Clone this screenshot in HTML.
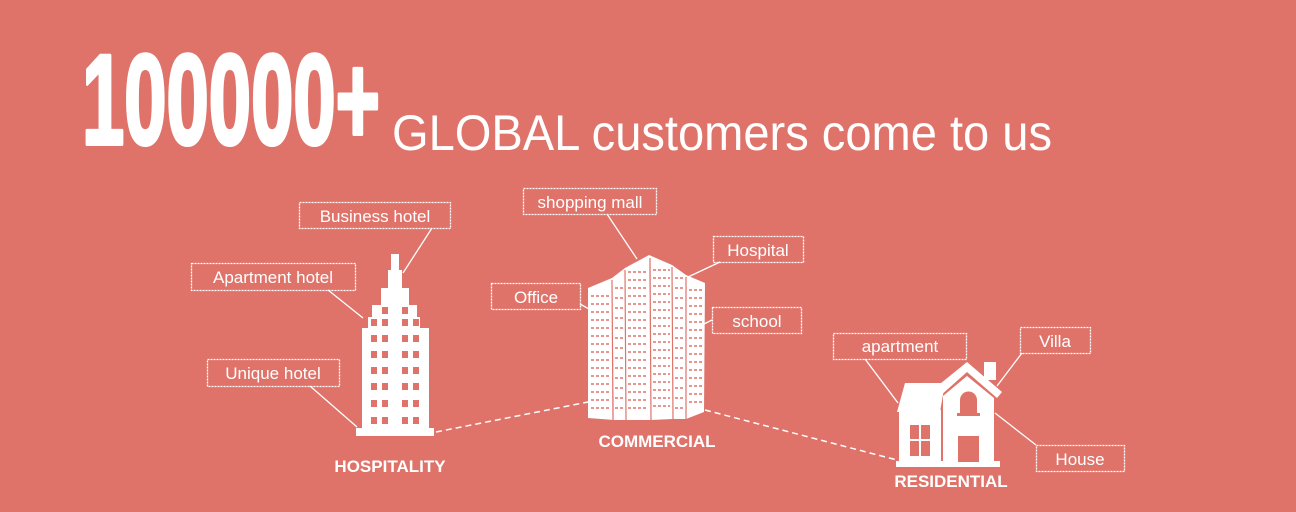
<!DOCTYPE html>
<html><head><meta charset="utf-8"><style>
html,body{margin:0;padding:0;background:#DF736A;}
svg{display:block}
text{font-family:"Liberation Sans",sans-serif;fill:#fff}
</style></head><body>
<svg width="1296" height="512" viewBox="0 0 1296 512" xmlns="http://www.w3.org/2000/svg">
<rect width="1296" height="512" fill="#DF736A"/>
<text x="82" y="144" font-size="128" font-weight="bold" textLength="298" lengthAdjust="spacingAndGlyphs" stroke="#fff" stroke-width="4" stroke-linejoin="round" style="font-family:'Liberation Sans Narrow','Liberation Sans',sans-serif">100000+</text>
<text x="392" y="150" font-size="50" textLength="660" lengthAdjust="spacingAndGlyphs">GLOBAL customers come to us</text>

<g fill="none" stroke="#fff" stroke-width="1.3" stroke-dasharray="2 1">
<rect x="299.5" y="202.5" width="151" height="26"/>
<rect x="191.5" y="263.5" width="164" height="27"/>
<rect x="207.5" y="359.5" width="132" height="27"/>
<rect x="523.5" y="188.5" width="133" height="26"/>
<rect x="713.5" y="236.5" width="90" height="26"/>
<rect x="491.5" y="283.5" width="89" height="26"/>
<rect x="712.5" y="307.5" width="89" height="26"/>
<rect x="833.5" y="333.5" width="133" height="26"/>
<rect x="1020.5" y="327.5" width="70" height="26"/>
<rect x="1036.5" y="445.5" width="88" height="26"/>
</g>
<g font-size="17" text-anchor="middle">
<text x="375" y="222">Business hotel</text>
<text x="273" y="283">Apartment hotel</text>
<text x="273" y="379">Unique hotel</text>
<text x="590" y="208">shopping mall</text>
<text x="758" y="256">Hospital</text>
<text x="536" y="303">Office</text>
<text x="757" y="327">school</text>
<text x="900" y="352">apartment</text>
<text x="1055" y="347">Villa</text>
<text x="1080" y="465">House</text>
</g>
<g stroke="#fff" stroke-width="1.3">
<line x1="432" y1="228" x2="403" y2="273"/>
<line x1="328" y1="290" x2="363" y2="318"/>
<line x1="310" y1="386" x2="357" y2="427"/>
<line x1="607" y1="214" x2="637" y2="259"/>
<line x1="720" y1="262" x2="688" y2="277"/>
<line x1="580" y1="304" x2="589" y2="309"/>
<line x1="712" y1="320" x2="704" y2="324"/>
<line x1="865" y1="359" x2="898" y2="403"/>
<line x1="1022" y1="353" x2="997" y2="386"/>
<line x1="1036" y1="445" x2="995" y2="413"/>
</g>
<g stroke="#fff" stroke-width="1.5" stroke-dasharray="6 4">
<line x1="436" y1="432" x2="588" y2="402"/>
<line x1="705" y1="410" x2="897" y2="460"/>
</g>

<g fill="#fff">
<rect x="391" y="254" width="8" height="18"/>
<rect x="388" y="270" width="14" height="20"/>
<rect x="381" y="288" width="28" height="18"/>
<rect x="372" y="305" width="45" height="15"/>
<rect x="368" y="317" width="52" height="12"/>
<rect x="362" y="328" width="67" height="102"/>
<rect x="356" y="428" width="78" height="8"/>
</g>
<g fill="#DF736A">
<rect x="382" y="307" width="6" height="7"/><rect x="402" y="307" width="6" height="7"/>
<rect x="371" y="319" width="6" height="7"/><rect x="382" y="319" width="6" height="7"/><rect x="402" y="319" width="6" height="7"/><rect x="413" y="319" width="6" height="7"/>
<g id="wr"><rect x="371" y="335" width="6" height="7"/><rect x="382" y="335" width="6" height="7"/><rect x="402" y="335" width="6" height="7"/><rect x="413" y="335" width="6" height="7"/></g>
<use href="#wr" y="16"/><use href="#wr" y="32"/><use href="#wr" y="48"/><use href="#wr" y="65"/><use href="#wr" y="82"/>
</g>

<g fill="#fff">
<polygon points="588,288 612,278 614,420 588,418"/>
<polygon points="612,278 625,268 626,420 614,420"/>
<polygon points="625,268 649,255 651,420 626,420"/>
<polygon points="649,255 672,265 673,419 651,420"/>
<polygon points="672,265 686,275 686,419 673,419"/>
<polygon points="686,275 705,283 704,412 686,419"/>
</g>
<g stroke="#DF736A" stroke-width="1.2">
<line x1="612" y1="280" x2="613" y2="420"/>
<line x1="625" y1="270" x2="626" y2="420"/>
<line x1="650" y1="258" x2="651" y2="420"/>
<line x1="672" y1="267" x2="673" y2="419"/>
<line x1="686" y1="277" x2="686" y2="419"/>
</g>
<g stroke="#DF736A" stroke-width="1.4" stroke-dasharray="3 2">
<path d="M591 296H610M591 304H610M591 312H610M591 320H610M591 328H610M591 336H610M591 344H610M591 352H610M591 360H610M591 368H610M591 376H610M591 384H610M591 392H610M591 400H610M591 408H610"/>
<path d="M628 272H648M628 280H648M628 288H648M628 296H648M628 304H648M628 312H648M628 320H648M628 328H648M628 336H648M628 344H648M628 352H648M628 360H648M628 368H648M628 376H648M628 384H648M628 392H648M628 400H648M628 408H648"/>
<path d="M653 270H670M653 278H670M653 286H670M653 294H670M653 302H670M653 310H670M653 318H670M653 326H670M653 334H670M653 342H670M653 350H670M653 358H670M653 366H670M653 374H670M653 382H670M653 390H670M653 398H670M653 406H670"/>
<path d="M689 290H702M689 298H702M689 306H702M689 314H702M689 322H702M689 330H702M689 338H702M689 346H702M689 354H702M689 362H702M689 370H702M689 378H702M689 386H702M689 394H702M689 402H702"/>
<path d="M615 288H623M615 298H623M615 308H623M615 318H623M615 328H623M615 338H623M615 348H623M615 358H623M615 368H623M615 378H623M615 388H623M615 398H623M615 408H623"/>
<path d="M675 278H684M675 288H684M675 298H684M675 308H684M675 318H684M675 328H684M675 338H684M675 348H684M675 358H684M675 368H684M675 378H684M675 388H684M675 398H684M675 408H684"/>
</g>

<g fill="#fff">
<rect x="984" y="362" width="12" height="18"/>
<polygon points="905,383 945,383 940,412 897,412"/>
<rect x="899" y="410" width="42" height="54"/>
<polygon points="935,388 967,362 1002,392 997,398 967,372 940,396"/>
<polygon points="943,396 967,376 994,398 994,464 943,464"/>
<rect x="896" y="461" width="104" height="6"/>
</g>
<g fill="#DF736A">
<rect x="910" y="425" width="20" height="31"/>
<path d="M960 415V400a8.5 8.5 0 0 1 17 0V415z"/>
<rect x="957" y="413" width="23" height="3"/>
<rect x="958" y="436" width="21" height="26"/>
</g>
<g fill="#fff"><rect x="919" y="425" width="2" height="31"/><rect x="910" y="439" width="20" height="2"/></g>

<g font-size="17" font-weight="bold" text-anchor="middle">
<text x="390" y="472">HOSPITALITY</text>
<text x="657" y="447">COMMERCIAL</text>
<text x="951" y="487">RESIDENTIAL</text>
</g>
</svg>
</body></html>
